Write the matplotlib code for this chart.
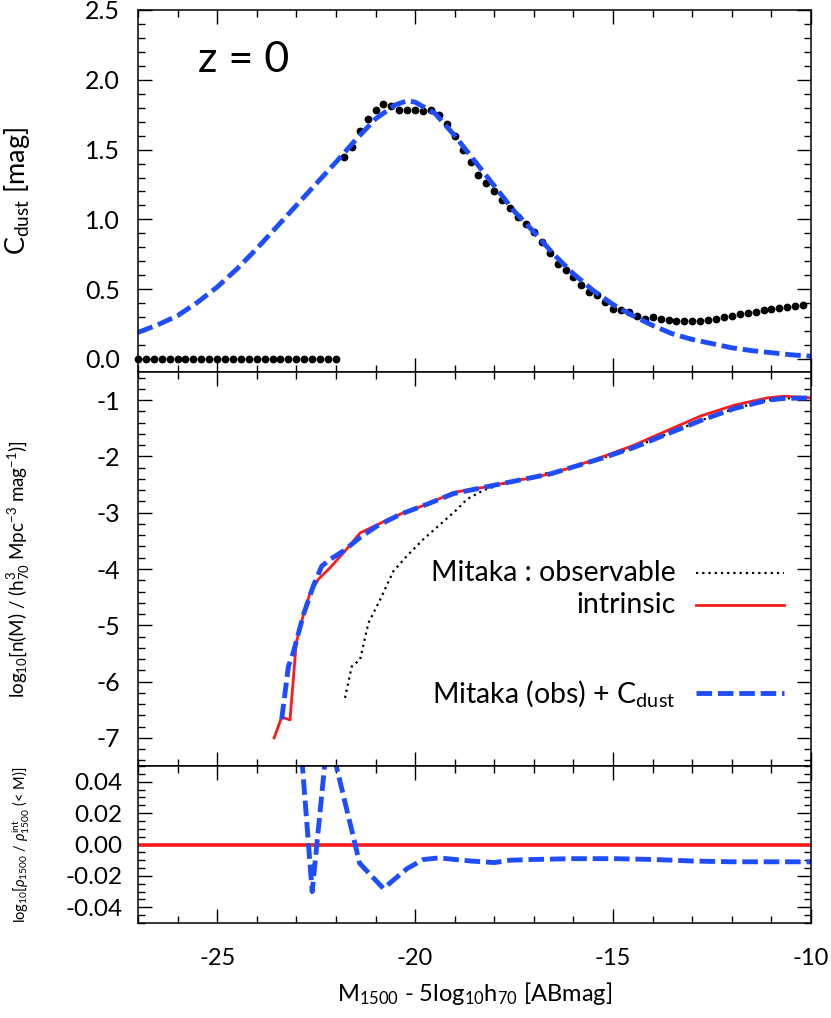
import numpy as np
import matplotlib
matplotlib.use("Agg")
import matplotlib.pyplot as plt
from matplotlib.ticker import MultipleLocator, FormatStrFormatter

plt.rcParams['font.family'] = ['Lato', 'DejaVu Sans']
plt.rcParams['mathtext.fontset'] = 'custom'
plt.rcParams['mathtext.rm'] = 'Lato'
plt.rcParams['mathtext.it'] = 'Lato:italic'
plt.rcParams['mathtext.fallback'] = 'stixsans'
plt.rcParams['axes.unicode_minus'] = False

BLUE = '#1e4dff'
RED = '#ff1a1a'

# --- top panel: C_dust ---
# Mitaka dust colour (black dots), bright end where it is zero
cdust_flat_x = [-27.0, -26.8, -26.6, -26.4, -26.2, -26.0, -25.8, -25.6, -25.4, -25.2,
                -25.0, -24.8, -24.6, -24.4, -24.2, -24.0, -23.8, -23.6, -23.4, -23.2,
                -23.0, -22.8, -22.6, -22.4, -22.2, -22.0]
cdust_flat_y = [0.0, 0.0, 0.0, 0.0, 0.0, 0.0, 0.0, 0.0, 0.0, 0.0,
                0.0, 0.0, 0.0, 0.0, 0.0, 0.0, 0.0, 0.0, 0.0, 0.0,
                0.0, 0.0, 0.0, 0.0, 0.0, 0.0]
cdust_x = [-21.8, -21.6, -21.4, -21.2, -21.0, -20.8, -20.6, -20.4, -20.2, -20.0,
           -19.8, -19.6, -19.4, -19.2, -19.0, -18.8, -18.6, -18.4, -18.2, -18.0,
           -17.8, -17.6, -17.4, -17.2, -17.0, -16.8, -16.6, -16.4, -16.2, -16.0,
           -15.8, -15.6, -15.4, -15.2, -15.0, -14.8, -14.6, -14.4, -14.2, -14.0,
           -13.8, -13.6, -13.4, -13.2, -13.0, -12.8, -12.6, -12.4, -12.2, -12.0,
           -11.8, -11.6, -11.4, -11.2, -11.0, -10.8, -10.6, -10.4, -10.2]
cdust_y = [1.45, 1.52, 1.63, 1.72, 1.78, 1.83, 1.81, 1.78, 1.78, 1.78,
           1.775, 1.78, 1.745, 1.685, 1.60, 1.50, 1.41, 1.32, 1.26, 1.20,
           1.14, 1.08, 1.02, 0.97, 0.91, 0.835, 0.76, 0.68, 0.64, 0.59,
           0.53, 0.48, 0.46, 0.41, 0.36, 0.35, 0.34, 0.31, 0.29, 0.30,
           0.285, 0.28, 0.275, 0.275, 0.275, 0.275, 0.28, 0.29, 0.30, 0.31,
           0.32, 0.33, 0.34, 0.35, 0.36, 0.366, 0.375, 0.38, 0.39]

# fitted C_dust (blue dashed)
fit_x = [-27.0, -26.5, -26.0, -25.5, -25.0, -24.5, -24.0, -23.5, -23.0, -22.5,
         -22.0, -21.5, -21.0, -20.5, -20.2, -20.0, -19.5, -19.0, -18.5, -18.0,
         -17.5, -17.0, -16.5, -16.0, -15.5, -15.0, -14.5, -14.0, -13.5, -13.0,
         -12.5, -12.0, -11.5, -11.0, -10.5, -10.0]
fit_y = [0.19, 0.245, 0.31, 0.405, 0.515, 0.645, 0.79, 0.945, 1.10, 1.255,
         1.41, 1.57, 1.72, 1.82, 1.85, 1.84, 1.76, 1.60, 1.42, 1.24,
         1.06, 0.91, 0.75, 0.61, 0.49, 0.39, 0.31, 0.24, 0.18, 0.14,
         0.11, 0.08, 0.06, 0.045, 0.03, 0.02]

# --- middle panel: luminosity functions ---
obs_x = [-21.77, -21.60, -21.39, -21.18, -20.88, -20.55, -20.21, -19.79, -19.37, -18.94,
         -18.69, -18.27, -17.85, -17.0, -16.16, -15.32, -14.47, -13.63, -12.78, -11.94,
         -11.1, -10.68, -10.0]
obs_y = [-6.29, -5.73, -5.61, -4.96, -4.54, -4.04, -3.77, -3.47, -3.21, -2.94,
         -2.76, -2.60, -2.50, -2.35, -2.22, -2.04, -1.84, -1.60, -1.36, -1.15,
         -1.0, -0.97, -0.96]

int_x = [-23.56, -23.37, -23.16, -23.0, -22.82, -22.65, -22.44, -22.15, -21.77, -21.39,
         -20.71, -20.29, -19.70, -19.03, -18.27, -17.43, -16.58, -16.16, -15.32, -14.47,
         -13.63, -12.78, -11.94, -11.1, -10.68, -10.0]
int_y = [-7.0, -6.63, -6.68, -5.3, -4.81, -4.42, -4.18, -3.98, -3.68, -3.36,
         -3.13, -3.0, -2.85, -2.64, -2.55, -2.43, -2.31, -2.22, -2.02, -1.80,
         -1.54, -1.28, -1.09, -0.96, -0.93, -0.96]

corr_x = [-23.37, -23.2, -23.08, -22.82, -22.57, -22.36, -22.15, -21.81, -21.39, -20.97,
          -20.38, -19.70, -19.03, -18.27, -17.43, -16.58, -16.16, -15.32, -14.47, -13.63,
          -12.78, -11.94, -11.1, -10.68, -10.0]
corr_y = [-6.67, -5.73, -5.49, -4.81, -4.30, -3.95, -3.83, -3.68, -3.44, -3.24,
          -3.03, -2.85, -2.66, -2.55, -2.43, -2.31, -2.22, -2.04, -1.84, -1.60,
          -1.36, -1.15, -1.0, -0.97, -0.96]

# --- bottom panel: cumulative luminosity density ratio ---
ratio_int_x = [-27.0, -10.0]
ratio_int_y = [0.0, 0.0]
ratio_x = [-23.4, -23.0, -22.6, -22.2, -21.4, -20.8, -20.2, -19.8, -19.4, -19.0,
           -18.6, -18.0, -17.6, -17.0, -16.0, -15.0, -14.0, -13.0, -12.0, -11.0, -10.0]
ratio_y = [0.30, 0.10, -0.030, 0.072, -0.012, -0.028, -0.0153, -0.0096, -0.0085, -0.0095,
           -0.0105, -0.0115, -0.010, -0.0095, -0.009, -0.009, -0.0095, -0.0105, -0.011, -0.011, -0.011]

fig = plt.figure(figsize=(8.31, 10.18), dpi=100)
L, W = 0.166, 0.810
ax1 = fig.add_axes([L, 0.6346, W, 0.3556])
ax2 = fig.add_axes([L, 0.2475, W, 0.3871])
ax3 = fig.add_axes([L, 0.0933, W, 0.1542])

for ax in (ax1, ax2, ax3):
    ax.set_xlim(-27, -10)
    ax.xaxis.set_major_locator(MultipleLocator(5))
    ax.xaxis.set_minor_locator(MultipleLocator(1))
    ax.tick_params(which='both', direction='in', top=True, right=True, width=1.0)
    ax.tick_params(which='major', length=10)
    ax.tick_params(which='minor', length=5)
    ax.tick_params(axis='y', labelsize=18, pad=13)
    for s in ax.spines.values():
        s.set_linewidth(1.1)

ax1.tick_params(labelbottom=False)
ax2.tick_params(labelbottom=False)

# top
ax1.plot(cdust_flat_x, cdust_flat_y, 'o', color='black', ms=4.6, clip_on=False)
ax1.plot(cdust_x, cdust_y, 'o', color='black', ms=4.6)
ax1.plot(fit_x, fit_y, color=BLUE, lw=3.5, dashes=(3.2, 1.2))
ax1.set_ylim(-0.093, 2.5)
ax1.yaxis.set_major_locator(MultipleLocator(0.5))
ax1.yaxis.set_minor_locator(MultipleLocator(0.1))
ax1.yaxis.set_major_formatter(FormatStrFormatter('%.1f'))
ax1.set_ylabel('C$_\\mathregular{dust}$ [mag]', fontsize=19.5)
ax1.text(0.089, 0.862, 'z = 0', transform=ax1.transAxes, fontsize=31, va='center')

# middle
ax2.plot(obs_x, obs_y, color='black', lw=1.6, dashes=(1, 1.8))
ax2.plot(int_x, int_y, color=RED, lw=2.0)
ax2.plot(corr_x, corr_y, color=BLUE, lw=3.5, dashes=(3.2, 1.2))
ax2.set_ylim(-7.5, -0.5)
ax2.yaxis.set_major_locator(MultipleLocator(1))
ax2.yaxis.set_minor_locator(MultipleLocator(0.2))
ax2.set_ylabel(r'log$_\mathregular{10}$[n(M) / (h$^\mathregular{3}_\mathregular{70}$ Mpc$^\mathregular{-3}$ mag$^\mathregular{-1}$)]',
               fontsize=13.5)

# legend drawn by hand so the labels are right aligned
leg_rows = [('Mitaka : observable', dict(color='black', lw=1.6, dashes=(1, 1.8)), 0.490),
            ('intrinsic', dict(color=RED, lw=2.0), 0.409),
            ('Mitaka (obs) + C$_\\mathregular{dust}$', dict(color=BLUE, lw=3.5, dashes=(3.2, 1.2)), 0.185)]
for label, style, yy in leg_rows:
    ax2.plot([0.829, 0.960], [yy, yy], transform=ax2.transAxes, **style)
    ax2.text(0.799, yy, label, transform=ax2.transAxes, ha='right', va='center', fontsize=20.5)

# bottom
ax3.plot(ratio_int_x, ratio_int_y, color=RED, lw=2.6)
ax3.plot(ratio_x, ratio_y, color=BLUE, lw=3.5, dashes=(3.2, 1.2))
ax3.set_ylim(-0.05, 0.05)
ax3.yaxis.set_major_locator(MultipleLocator(0.02))
ax3.yaxis.set_minor_locator(MultipleLocator(0.005))
ax3.yaxis.set_major_formatter(FormatStrFormatter('%.2f'))
ax3.tick_params(axis='y', labelsize=17.5, pad=11)
ax3.tick_params(axis='x', labelsize=17, pad=18)
ax3.set_ylabel(r'log$_\mathregular{10}$[$\rho_\mathregular{1500}$ / $\rho^\mathregular{int}_\mathregular{1500}$ (< M)]',
               fontsize=10.5)
ax3.set_xlabel('M$_\\mathregular{1500}$ - 5log$_\\mathregular{10}$h$_\\mathregular{70}$ [ABmag]', fontsize=17, labelpad=8)

for ax in (ax1, ax2, ax3):
    ax.yaxis.set_label_coords(-0.157, 0.5)

fig.savefig('out.png', dpi=100)
